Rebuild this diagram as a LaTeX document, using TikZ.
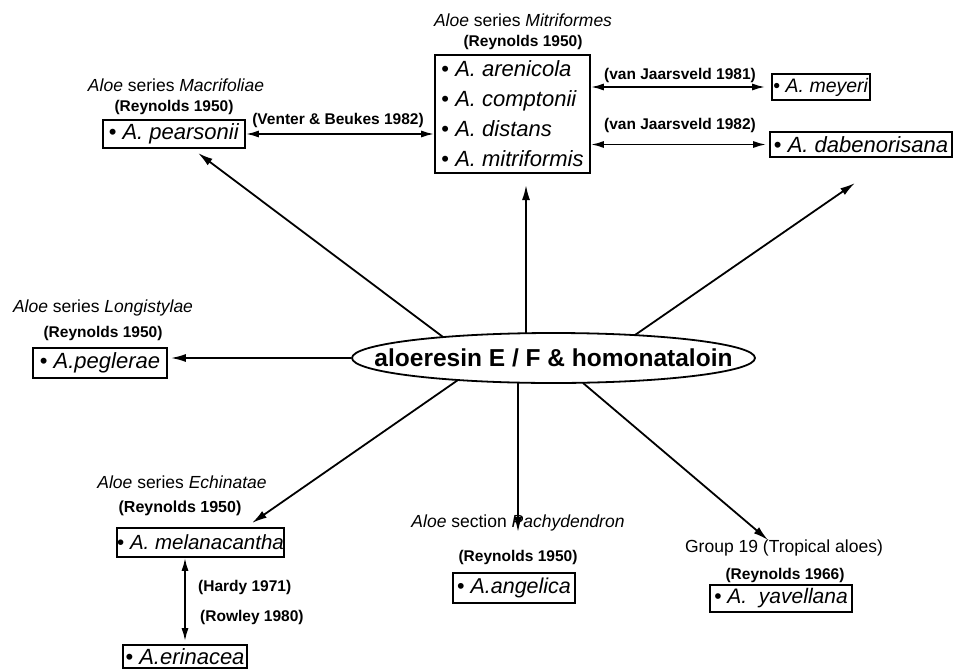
\documentclass[tikz,border=0pt]{standalone}
\usepackage{fontspec}
\setmainfont{Liberation Sans}
\usetikzlibrary{arrows.meta,shapes.geometric}
\newcommand{\spc}[1]{\textbullet\ \textit{#1}}
\begin{document}
\begin{tikzpicture}[x=1pt,y=-1pt,
  box/.style={draw,line width=1.7pt,inner sep=0pt},
  ttl/.style={font=\fontsize{17.5}{20}\selectfont,inner sep=0pt},
  cit/.style={font=\bfseries\fontsize{15.5}{18}\selectfont,inner sep=0pt},
  arr/.style={line width=1.8pt,-{Latex[length=15pt,width=8pt]}},
  darr/.style={line width=1.8pt,{Latex[length=13pt,width=7pt]}-{Latex[length=13pt,width=7pt]}},
]
\useasboundingbox (0,0) rectangle (957,669);

% central ellipse (fixed size, text does not enlarge it)
\node[ellipse,draw,line width=1.8pt,minimum width=403pt,minimum height=50pt,inner sep=0pt,
  font=\bfseries\fontsize{24.5}{28}\selectfont] (ell) at (553.5,358)
  {\makebox[0pt]{\raisebox{-8.5pt}[0pt][0pt]{aloeresin E / F \& homonataloin}}};

% boxes
\node[box,minimum width=142pt,minimum height=28pt,font=\fontsize{22}{26}\selectfont] (pear) at (174,134) {\spc{A. pearsonii}};
\node[box,minimum width=134pt,minimum height=30pt,font=\fontsize{22}{26}\selectfont] (pegl) at (100,363) {\spc{A.peglerae}};
\node[box,align=left,minimum width=155pt,minimum height=118pt,font=\fontsize{22}{30}\selectfont] (mitri) at (512.5,114)
  {\spc{A. arenicola}\\\spc{A. comptonii}\\\spc{A. distans}\\\spc{A. mitriformis}};
\node[box,minimum width=98pt,minimum height=26pt,font=\fontsize{19.5}{24}\selectfont] (meyeri) at (821,87) {\spc{A. meyeri}};
\node[box,minimum width=182pt,minimum height=25pt,font=\fontsize{22}{26}\selectfont] (dabe) at (861,144.5) {\spc{A. dabenorisana}};
\node[box,minimum width=165pt,minimum height=29pt,font=\fontsize{20.5}{24}\selectfont] (mela) at (200.5,542.5) {\spc{A. melanacantha}};
\node[box,minimum width=124pt,minimum height=23pt,font=\fontsize{22}{26}\selectfont] (erin) at (185,656.5) {\spc{A.erinacea}};
\node[box,minimum width=122pt,minimum height=30pt,font=\fontsize{21.5}{26}\selectfont] (ange) at (514,588) {\spc{A.angelica}};
\node[box,minimum width=142pt,minimum height=27pt,font=\fontsize{21}{26}\selectfont] (yave) at (781,598.5) {\spc{A.\ \ yavellana}};

% titles and citations
\node[ttl] (tmac) at (176,85) {\textit{Aloe} series \textit{Macrifoliae}};
\node[cit] (rmac) at (174,107) {(Reynolds 1950)};
\node[ttl] (tlon) at (103,308) {\textit{Aloe} series \textit{Longistylae}};
\node[cit] (rlon) at (103,333) {(Reynolds 1950)};
\node[ttl] (tmit) at (523,20) {\textit{Aloe} series \textit{Mitriformes}};
\node[cit] (rmit) at (523,42) {(Reynolds 1950)};
\node[ttl] (tech) at (182,482) {\textit{Aloe} series \textit{Echinatae}};
\node[cit,font=\bfseries\fontsize{16}{18}\selectfont] (rech) at (180,508) {(Reynolds 1950)};
\node[ttl] (tpac) at (518,523) {\textit{Aloe} section \textit{Pachydendron}};
\node[cit] (rpac) at (518,557) {(Reynolds 1950)};
\node[ttl] (tgrp) at (784,548) {Group 19 (Tropical aloes)};
\node[cit] (rgrp) at (785,575) {(Reynolds 1966)};

% arrow labels
\node[cit] (lven) at (338,120) {(Venter \& Beukes 1982)};
\node[cit] (lj81) at (680,75) {(van Jaarsveld 1981)};
\node[cit] (lj82) at (680,125) {(van Jaarsveld 1982)};
\node[cit,anchor=west] (lhar) at (198,587) {(Hardy 1971)};
\node[cit,anchor=west] (lrow) at (200,617) {(Rowley 1980)};

% radial arrows from the ellipse
\coordinate (s1) at (443,337); \coordinate (t1) at (198,153);
\coordinate (s3) at (458,380); \coordinate (t3) at (252,523);
\coordinate (s4) at (518,382.5); \coordinate (t4) at (518,532);
\coordinate (s5) at (583,383); \coordinate (t5) at (768,540);
\coordinate (s6) at (635,335); \coordinate (t6) at (855,183);
\coordinate (s7) at (526,333); \coordinate (t7) at (526,185);
\draw[arr] (s1) -- (t1);
\draw[arr,shorten >=3pt] (ell.west) -- (pegl.east |- ell.west);
\draw[arr] (s3) -- (t3);
\draw[arr] (s4) -- (t4);
\draw[arr] (s5) -- (t5);
\draw[arr] (s6) -- (t6);
\draw[arr] (s7) -- (t7);

% double arrows
\draw[darr] (pear.east) -- (pear.east -| mitri.west);
\draw[darr,shorten >=6pt] (mitri.east |- meyeri.west) -- (meyeri.west);
\draw[darr,shorten >=3pt] (mitri.east |- dabe.west) -- (dabe.west);
\draw[darr,shorten >=3pt] (erin.north |- mela.south) -- (erin.north);
\end{tikzpicture}
\end{document}
